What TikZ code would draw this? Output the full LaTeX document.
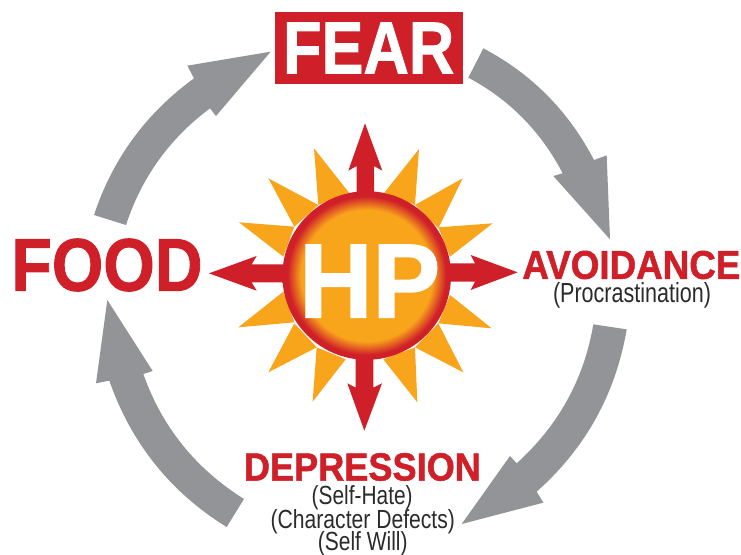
\documentclass[tikz,border=0pt]{standalone}
\usepackage{fontspec}
\usepackage{graphicx}
\setmainfont{Liberation Sans}[BoldFeatures={FakeBold=1.3}]
\definecolor{hpred}{HTML}{CF2029}
\definecolor{hporange}{HTML}{F9A51C}
\definecolor{hpgray}{HTML}{929497}
\definecolor{hptext}{HTML}{2B2B2D}
\pgfdeclareradialshading{sunball}{\pgfpointorigin}{
  color(0bp)=(hporange);
  color(19.5bp)=(hporange);
  color(23.5bp)=(hpred);
  color(25bp)=(hpred);
  color(50bp)=(hpred)}
\newcommand{\fitbox}[3]{\resizebox{#1pt}{#2pt}{#3}}
\tikzset{
  ray/.style={fill=hporange,draw=none},
  redarrow/.style={fill=hpred,draw=none},
  grayarrow/.style={fill=hpgray,draw=none},
  zoomed/.style={x=0.33333pt,y=-0.33333pt},
  lbl/.style={inner sep=0pt,outer sep=0pt,anchor=center},
  headtxt/.style={lbl,text=hpred,font=\bfseries},
  subtxt/.style={lbl,text=hptext}
}
\begin{document}
\begin{tikzpicture}[x=1pt,y=-1pt]
\useasboundingbox[fill=white] (0,0) rectangle (741,554);
% sun rays and red arrows (coordinates of a 3x view at 200,110)
\begin{scope}[shift={(200,110)},zoomed]
\fill[ray] (342,115)--(355,285)--(447,248)--cycle;
\fill[ray] (657,117)--(553,248)--(645,285)--cycle;
\fill[ray] (788,205)--(645,285)--(715,355)--cycle;
\fill[ray] (878,340)--(715,352)--(750,440)--cycle;
\fill[ray] (875,655)--(750,555)--(715,640)--cycle;
\fill[ray] (790,787)--(715,640)--(645,712)--cycle;
\fill[ray] (652,877)--(645,712)--(550,748)--cycle;
\fill[ray] (338,875)--(437,748)--(350,712)--cycle;
\fill[ray] (205,787)--(350,712)--(283,640)--cycle;
\fill[ray] (115,652)--(283,637)--(250,545)--cycle;
\fill[ray] (117,337)--(250,440)--(283,350)--cycle;
\fill[ray] (205,205)--(283,350)--(355,285)--cycle;
\fill[redarrow] (495,40)--(547,182)--(522,168)--(522,300)--(470,300)--(470,168)--(445,182)--cycle;
\fill[redarrow] (493,962)--(442,820)--(467,833)--(467,700)--(520,700)--(520,833)--(546,820)--cycle;
\fill[redarrow] (27,490)--(170,438)--(155,463)--(300,463)--(300,517)--(155,517)--(170,542)--cycle;
\fill[redarrow] (953,487)--(812,435)--(825,460)--(700,460)--(700,515)--(825,515)--(812,540)--cycle;
\end{scope}
\node[circle,minimum size=168.6pt,inner sep=0pt,outer sep=0pt,shading=sunball] (sun) at (366.7,275.5) {};
\node[lbl,text=white,font=\bfseries] (hp) at (369.7,281.2) {\fitbox{141}{72.5}{HP}};
% gray arrows
\begin{scope}[shift={(440,30)},zoomed]
\fill[grayarrow] (130,55) .. controls (276,132) and (386,244) .. (462,390)
  -- (500,376) -- (510,628) -- (340,438) -- (368,430)
  .. controls (303,305) and (209,209) .. (85,143) -- cycle;
\end{scope}
\begin{scope}[shift={(440,310)},zoomed]
\fill[grayarrow] (560,58) .. controls (527,252) and (437,414) .. (290,545)
  -- (310,578) -- (65,642) -- (210,438) -- (230,460)
  .. controls (355,347) and (432,208) .. (460,43) -- cycle;
\end{scope}
\begin{scope}[shift={(80,290)},zoomed]
\fill[grayarrow] (440,711) .. controls (273,608) and (154,461) .. (88,272)
  -- (48,280) -- (82,30) -- (218,243) -- (190,252)
  .. controls (246,411) and (347,536) .. (492,627) -- cycle;
\end{scope}
\begin{scope}[shift={(80,30)},zoomed]
\fill[grayarrow] (42,555) .. controls (98,386) and (198,250) .. (342,145)
  -- (322,107) -- (572,65) -- (408,258) -- (390,235)
  .. controls (269,325) and (185,442) .. (138,585) -- cycle;
\end{scope}
% labels
\node[lbl,fill=hpred,minimum width=188.6pt,minimum height=71.7pt] (fearbox) at (369,48.2) {};
\node[lbl,text=white,font=\bfseries] (fear) at (368.7,48) {\fitbox{171}{50.6}{FEAR}};
\node[headtxt] (food) at (107,265) {\fitbox{191}{52}{FOOD}};
\node[headtxt] (avoid) at (631.4,265) {\fitbox{218}{28}{AVOIDANCE}};
\node[subtxt] (proc) at (632,295.6) {\fitbox{158}{20}{(Procrastination)}};
\node[headtxt] (dep) at (362.4,467) {\fitbox{237}{27.4}{DEPRESSION}};
\node[subtxt] (hate) at (362.2,498) {\fitbox{101}{19}{(Self-Hate)}};
\node[subtxt] (defects) at (362.8,522.2) {\fitbox{184.3}{19}{(Character Defects)}};
\node[subtxt] (will) at (362.8,544) {\fitbox{89.7}{19}{(Self Will)}};
\end{tikzpicture}
\end{document}
